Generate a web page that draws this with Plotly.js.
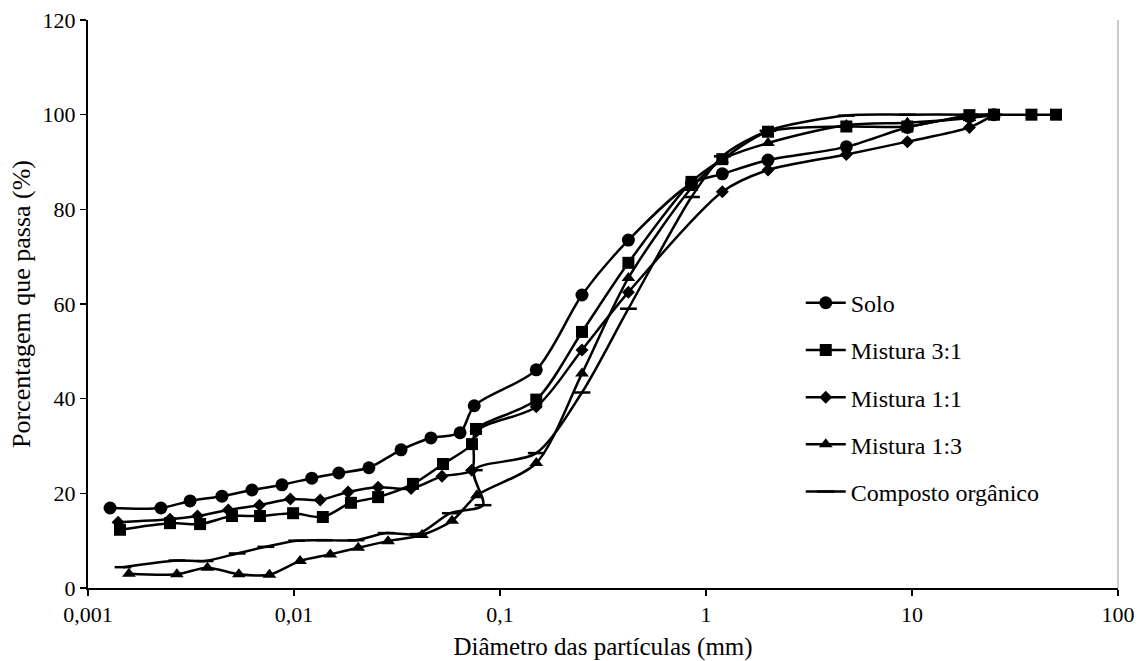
<!DOCTYPE html>
<html>
<head>
<meta charset="utf-8">
<script src="https://cdn.plot.ly/plotly-3.0.1.min.js"></script>
<style>html,body{margin:0;padding:0;background:#fff;}#chart{width:1140px;height:661px;}</style>
</head>
<body>
<div id="chart"></div>
<script>
// Diâmetro (mm) and porcentagem que passa (%) for each sample
const soloX = [0.00128,0.00226,0.00313,0.00447,0.00625,0.00874,0.0122,0.0165,0.0231,0.0331,0.0462,0.064,0.075,0.15,0.25,0.42,0.85,1.2,2.0,4.8,9.5,19,25];
const soloY = [16.9,16.9,18.4,19.4,20.7,21.8,23.2,24.3,25.4,29.2,31.7,32.8,38.5,46.1,61.9,73.5,85.5,87.5,90.4,93.2,97.3,99.6,100];

const m31X = [0.00143,0.0025,0.0035,0.005,0.00684,0.0099,0.0138,0.0189,0.0256,0.0378,0.0529,0.0731,0.0765,0.15,0.25,0.42,0.85,1.2,2.0,4.8,9.5,19,25,38,50];
const m31Y = [12.3,13.7,13.5,15.2,15.2,15.8,15.0,18.0,19.2,22.0,26.2,30.4,33.6,39.8,54.1,68.7,85.8,90.6,96.4,97.5,97.5,99.9,100,100,100];

const m11X = [0.0014,0.0025,0.0034,0.0048,0.0068,0.0096,0.0134,0.0183,0.0256,0.037,0.0523,0.073,0.0765,0.15,0.25,0.42,1.2,2.0,4.8,9.5,19,25];
const m11Y = [13.9,14.5,15.2,16.5,17.5,18.8,18.6,20.3,21.3,21.0,23.6,24.9,33.0,38.3,50.3,62.5,83.7,88.3,91.6,94.3,97.3,100];

const m13X = [0.00158,0.0027,0.0038,0.0054,0.0076,0.0107,0.015,0.0205,0.0286,0.0418,0.0585,0.0773,0.15,0.25,0.42,0.85,1.2,2.0,4.8,9.5,19,25];
const m13Y = [3.0,2.9,4.3,2.9,2.8,5.7,7.1,8.5,9.9,11.2,14.2,19.6,26.4,45.3,65.5,84.5,90.5,94.0,97.8,98.3,99.3,100];

const compX = [0.00148,0.0027,0.0037,0.0053,0.0073,0.0103,0.014,0.020,0.028,0.040,0.0574,0.0827,0.075,0.15,0.25,0.42,0.85,1.2,2.0,4.8,9.5,19,25];
const compY = [4.4,5.8,5.7,7.3,8.7,10.0,10.1,10.1,11.6,11.4,15.8,17.5,24.9,28.5,41.3,59.0,82.6,91.2,96.6,99.8,100,100,100];

const seriesNames = ['Solo','Mistura 3:1','Mistura 1:1','Mistura 1:3','Composto orgânico'];
const xTickVals = [0.001,0.01,0.1,1,10,100];
const xTickText = ['0,001','0,01','0,1','1','10','100'];
const yTickVals = [0,20,40,60,80,100,120];

const FONT = 'Liberation Serif';
const lineStyle = {color:'#000', width:2.5, shape:'spline', smoothing:0.8};

function tr(x, y, name, symbol, size, group) {
  return {
    x: x, y: y, name: name, type: 'scatter', mode: 'lines+markers',
    line: lineStyle,
    marker: {symbol: symbol, size: size, color: '#000', line: {color:'#000', width: symbol==='line-ew' ? 2.5 : 0}},
    legendgroup: group
  };
}

const data = [
  tr(soloX, soloY, seriesNames[0], 'circle', 13, 'a'),
  tr(m31X, m31Y, seriesNames[1], 'square', 12, 'b'),
  tr(m11X, m11Y, seriesNames[2], 'diamond', 10, 'c'),
  tr(m13X, m13Y, seriesNames[3], 'triangle-up', 12, 'd'),
  tr(compX, compY, seriesNames[4], 'line-ew', 12, 'e')
];

const layout = {
  width: 1140, height: 661,
  margin: {l: 88, r: 22, t: 20, b: 73},
  paper_bgcolor: '#fff', plot_bgcolor: '#fff',
  font: {family: FONT, size: 22, color: '#000'},
  showlegend: true,
  legend: {
    x: 0.692, y: 0.336, xanchor: 'left', yanchor: 'middle',
    bgcolor: 'rgba(0,0,0,0)', traceorder: 'grouped', tracegroupgap: 13,
    font: {family: FONT, size: 24, color: '#000'},
    itemwidth: 40
  },
  xaxis: {
    type: 'log', range: [-3, 2],
    tickvals: xTickVals, ticktext: xTickText,
    ticks: 'outside', ticklen: 6, tickwidth: 1.5, tickcolor: '#000',
    showline: true, linecolor: '#000', linewidth: 2,
    showgrid: false, zeroline: false,
    tickfont: {family: FONT, size: 22, color: '#000'},
    title: {text: 'Diâmetro das partículas (mm)', font: {family: FONT, size: 25, color: '#000'}, standoff: 12}
  },
  yaxis: {
    range: [0, 120], tickvals: yTickVals,
    ticks: 'outside', ticklen: 6, tickwidth: 1.5, tickcolor: '#000',
    showline: true, linecolor: '#000', linewidth: 2,
    showgrid: false, zeroline: false,
    tickfont: {family: FONT, size: 22, color: '#000'},
    title: {text: 'Porcentagem que passa (%)', font: {family: FONT, size: 26, color: '#000'}, standoff: 4}
  },
  shapes: [
    {type:'line', xref:'paper', yref:'paper', x0:1, x1:1, y0:0, y1:1, line:{color:'#999', width:1}}
  ]
};

Plotly.newPlot('chart', data, layout, {displayModeBar: false, staticPlot: true});
</script>
</body>
</html>
